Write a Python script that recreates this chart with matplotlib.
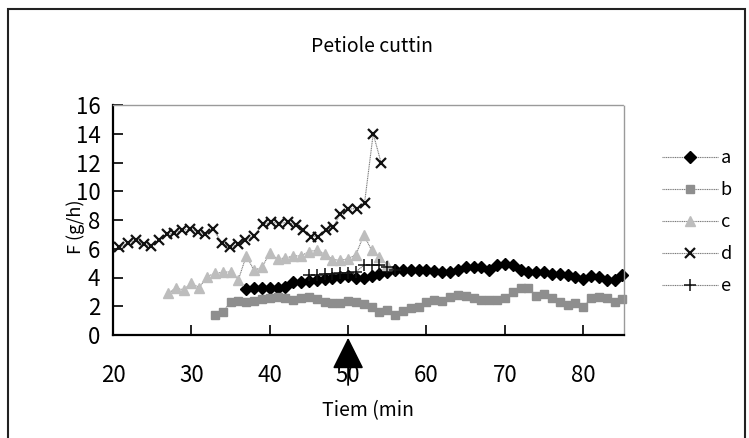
import matplotlib.pyplot as plt
from matplotlib.patches import Rectangle

plt.rcParams['font.family'] = ['Noto Sans CJK JP', 'DejaVu Sans']

# series (time in min, F in g/h)
a_t = [37, 38, 39, 40, 41, 42, 43, 44, 45, 46, 47, 48, 49, 50, 51, 52, 53, 54, 55, 56,
       57, 58, 59, 60, 61, 62, 63, 64, 65, 66, 67, 68, 69, 70, 71, 72, 73, 74, 75, 76,
       77, 78, 79, 80, 81, 82, 83, 84, 85]
a_v = [3.2, 3.25, 3.3, 3.3, 3.3, 3.35, 3.7, 3.7, 3.75, 3.85, 3.9, 3.95, 4.05, 4.1, 4.0,
       3.95, 4.1, 4.25, 4.4, 4.5, 4.5, 4.5, 4.55, 4.5, 4.45, 4.4, 4.4, 4.5, 4.75, 4.75,
       4.7, 4.55, 4.9, 4.95, 4.9, 4.55, 4.4, 4.4, 4.35, 4.25, 4.25, 4.15, 4.05, 3.9, 4.1,
       4.05, 3.85, 3.8, 4.15]

b_t = [33, 34, 35, 36, 37, 38, 39, 40, 41, 42, 43, 44, 45, 46, 47, 48, 49, 50, 51, 52,
       53, 54, 55, 56, 57, 58, 59, 60, 61, 62, 63, 64, 65, 66, 67, 68, 69, 70, 71, 72,
       73, 74, 75, 76, 77, 78, 79, 80, 81, 82, 83, 84, 85]
b_v = [1.4, 1.6, 2.3, 2.4, 2.3, 2.4, 2.5, 2.6, 2.65, 2.55, 2.45, 2.55, 2.65, 2.5, 2.3,
       2.2, 2.25, 2.35, 2.3, 2.15, 1.95, 1.6, 1.75, 1.4, 1.65, 1.85, 1.95, 2.3, 2.45, 2.4,
       2.65, 2.8, 2.7, 2.55, 2.45, 2.45, 2.45, 2.55, 3.0, 3.25, 3.3, 2.7, 2.85, 2.6, 2.3,
       2.1, 2.2, 1.95, 2.6, 2.65, 2.55, 2.3, 2.5]

c_t = [27, 28, 29, 30, 31, 32, 33, 34, 35, 36, 37, 38, 39, 40, 41, 42, 43, 44, 45, 46,
       47, 48, 49, 50, 51, 52, 53, 54, 55]
c_v = [2.9, 3.25, 3.15, 3.6, 3.3, 4.05, 4.3, 4.35, 4.4, 3.85, 5.5, 4.5, 4.7, 5.7, 5.3,
       5.35, 5.5, 5.5, 5.8, 5.9, 5.65, 5.25, 5.2, 5.3, 5.6, 6.95, 5.9, 5.4, 4.9]

d_t = [20.8, 21.9, 22.9, 23.9, 24.9, 25.9, 26.9, 27.8, 28.8, 29.8, 30.8, 31.8, 32.8,
       33.9, 34.9, 35.9, 36.9, 38.0, 39.1, 40.2, 41.2, 42.3, 43.3, 44.2, 45.2, 46.1,
       47.2, 48.1, 49.0, 50.0, 51.1, 52.1, 53.2, 54.2]
d_v = [6.1, 6.4, 6.6, 6.3, 6.2, 6.6, 7.0, 7.1, 7.3, 7.35, 7.2, 7.0, 7.35, 6.4, 6.1, 6.3,
       6.6, 6.9, 7.7, 7.85, 7.75, 7.85, 7.65, 7.3, 6.85, 6.85, 7.3, 7.5, 8.45, 8.75, 8.8,
       9.2, 14.0, 12.0]

e_t = [45, 46, 47, 48, 49, 50, 51, 52, 53, 54, 55, 56]
e_v = [4.15, 4.2, 4.25, 4.25, 4.3, 4.3, 4.4, 4.85, 4.85, 4.85, 4.75, 4.5]

fig = plt.figure(figsize=(7.49, 4.38), dpi=100)
ax = fig.add_axes([113 / 749, 1 - 335 / 438, 511 / 749, 230 / 438])

line_kw = dict(color='#7a7a7a', lw=0.8, linestyle=(0, (1, 0.6)), clip_on=False)
ax.plot(a_t, a_v, marker='D', ms=6.5, mfc='black', mec='black', label='a', **line_kw)
ax.plot(b_t, b_v, marker='s', ms=5.5, mfc='#8e8e8e', mec='#8e8e8e', label='b', **line_kw)
ax.plot(c_t, c_v, marker='^', ms=6.5, mfc='#bdbdbd', mec='#bdbdbd', label='c', **line_kw)
ax.plot(d_t, d_v, marker='x', ms=7, mew=1.6, mec='#111111', label='d', **line_kw)
ax.plot(e_t, e_v, marker='+', ms=9, mew=1.1, mec='#111111', label='e', **line_kw)

ax.set_xlim(20, 85.2)
ax.set_ylim(0, 16)
ax.set_xticks([20, 30, 40, 50, 60, 70, 80])
ax.set_yticks(range(0, 17, 2))
ax.tick_params(direction='in', length=7, width=1.2, labelsize=16, color='black')
ax.tick_params(axis='x', pad=21)
ax.tick_params(axis='y', pad=9)

for s in ['left', 'bottom']:
    ax.spines[s].set_linewidth(1.6)
    ax.spines[s].set_color('black')
for s in ['top', 'right']:
    ax.spines[s].set_linewidth(1.0)
    ax.spines[s].set_color('#9a9a9a')
    ax.spines[s].set_linestyle((0, (1, 1)))

ax.set_xlabel('Tiem (min', fontsize=14, labelpad=9)
ax.set_ylabel('F (g/h)', fontsize=13)
ax.yaxis.set_label_coords(-0.055, 0.47)

fig.text(372 / 749, 1 - 47 / 438, 'Petiole cuttin', fontsize=14, ha='center', va='center')

# arrow marking cutting time
ax.annotate('', xy=(50, 0), xytext=(0, -50), textcoords='offset pixels',
            arrowprops=dict(arrowstyle='-|>,head_length=0.9,head_width=0.45',
                            color='black', lw=1.3, mutation_scale=22, shrinkA=0, shrinkB=2),
            annotation_clip=False)

ax.legend(loc='upper left', bbox_to_anchor=(662 / 749, 1 - 149 / 438),
          bbox_transform=fig.transFigure, frameon=False, fontsize=13,
          handlelength=3.1, handletextpad=0.15, labelspacing=0.78,
          borderpad=0, borderaxespad=0)

# outer frame of the chart area
fig.add_artist(Rectangle((8 / 749, -0.05), 737 / 749, 1.05 - 9 / 438,
                         transform=fig.transFigure, fill=False, lw=1.5,
                         edgecolor='#222222', clip_on=False))

fig.savefig('out.png', dpi=100)
